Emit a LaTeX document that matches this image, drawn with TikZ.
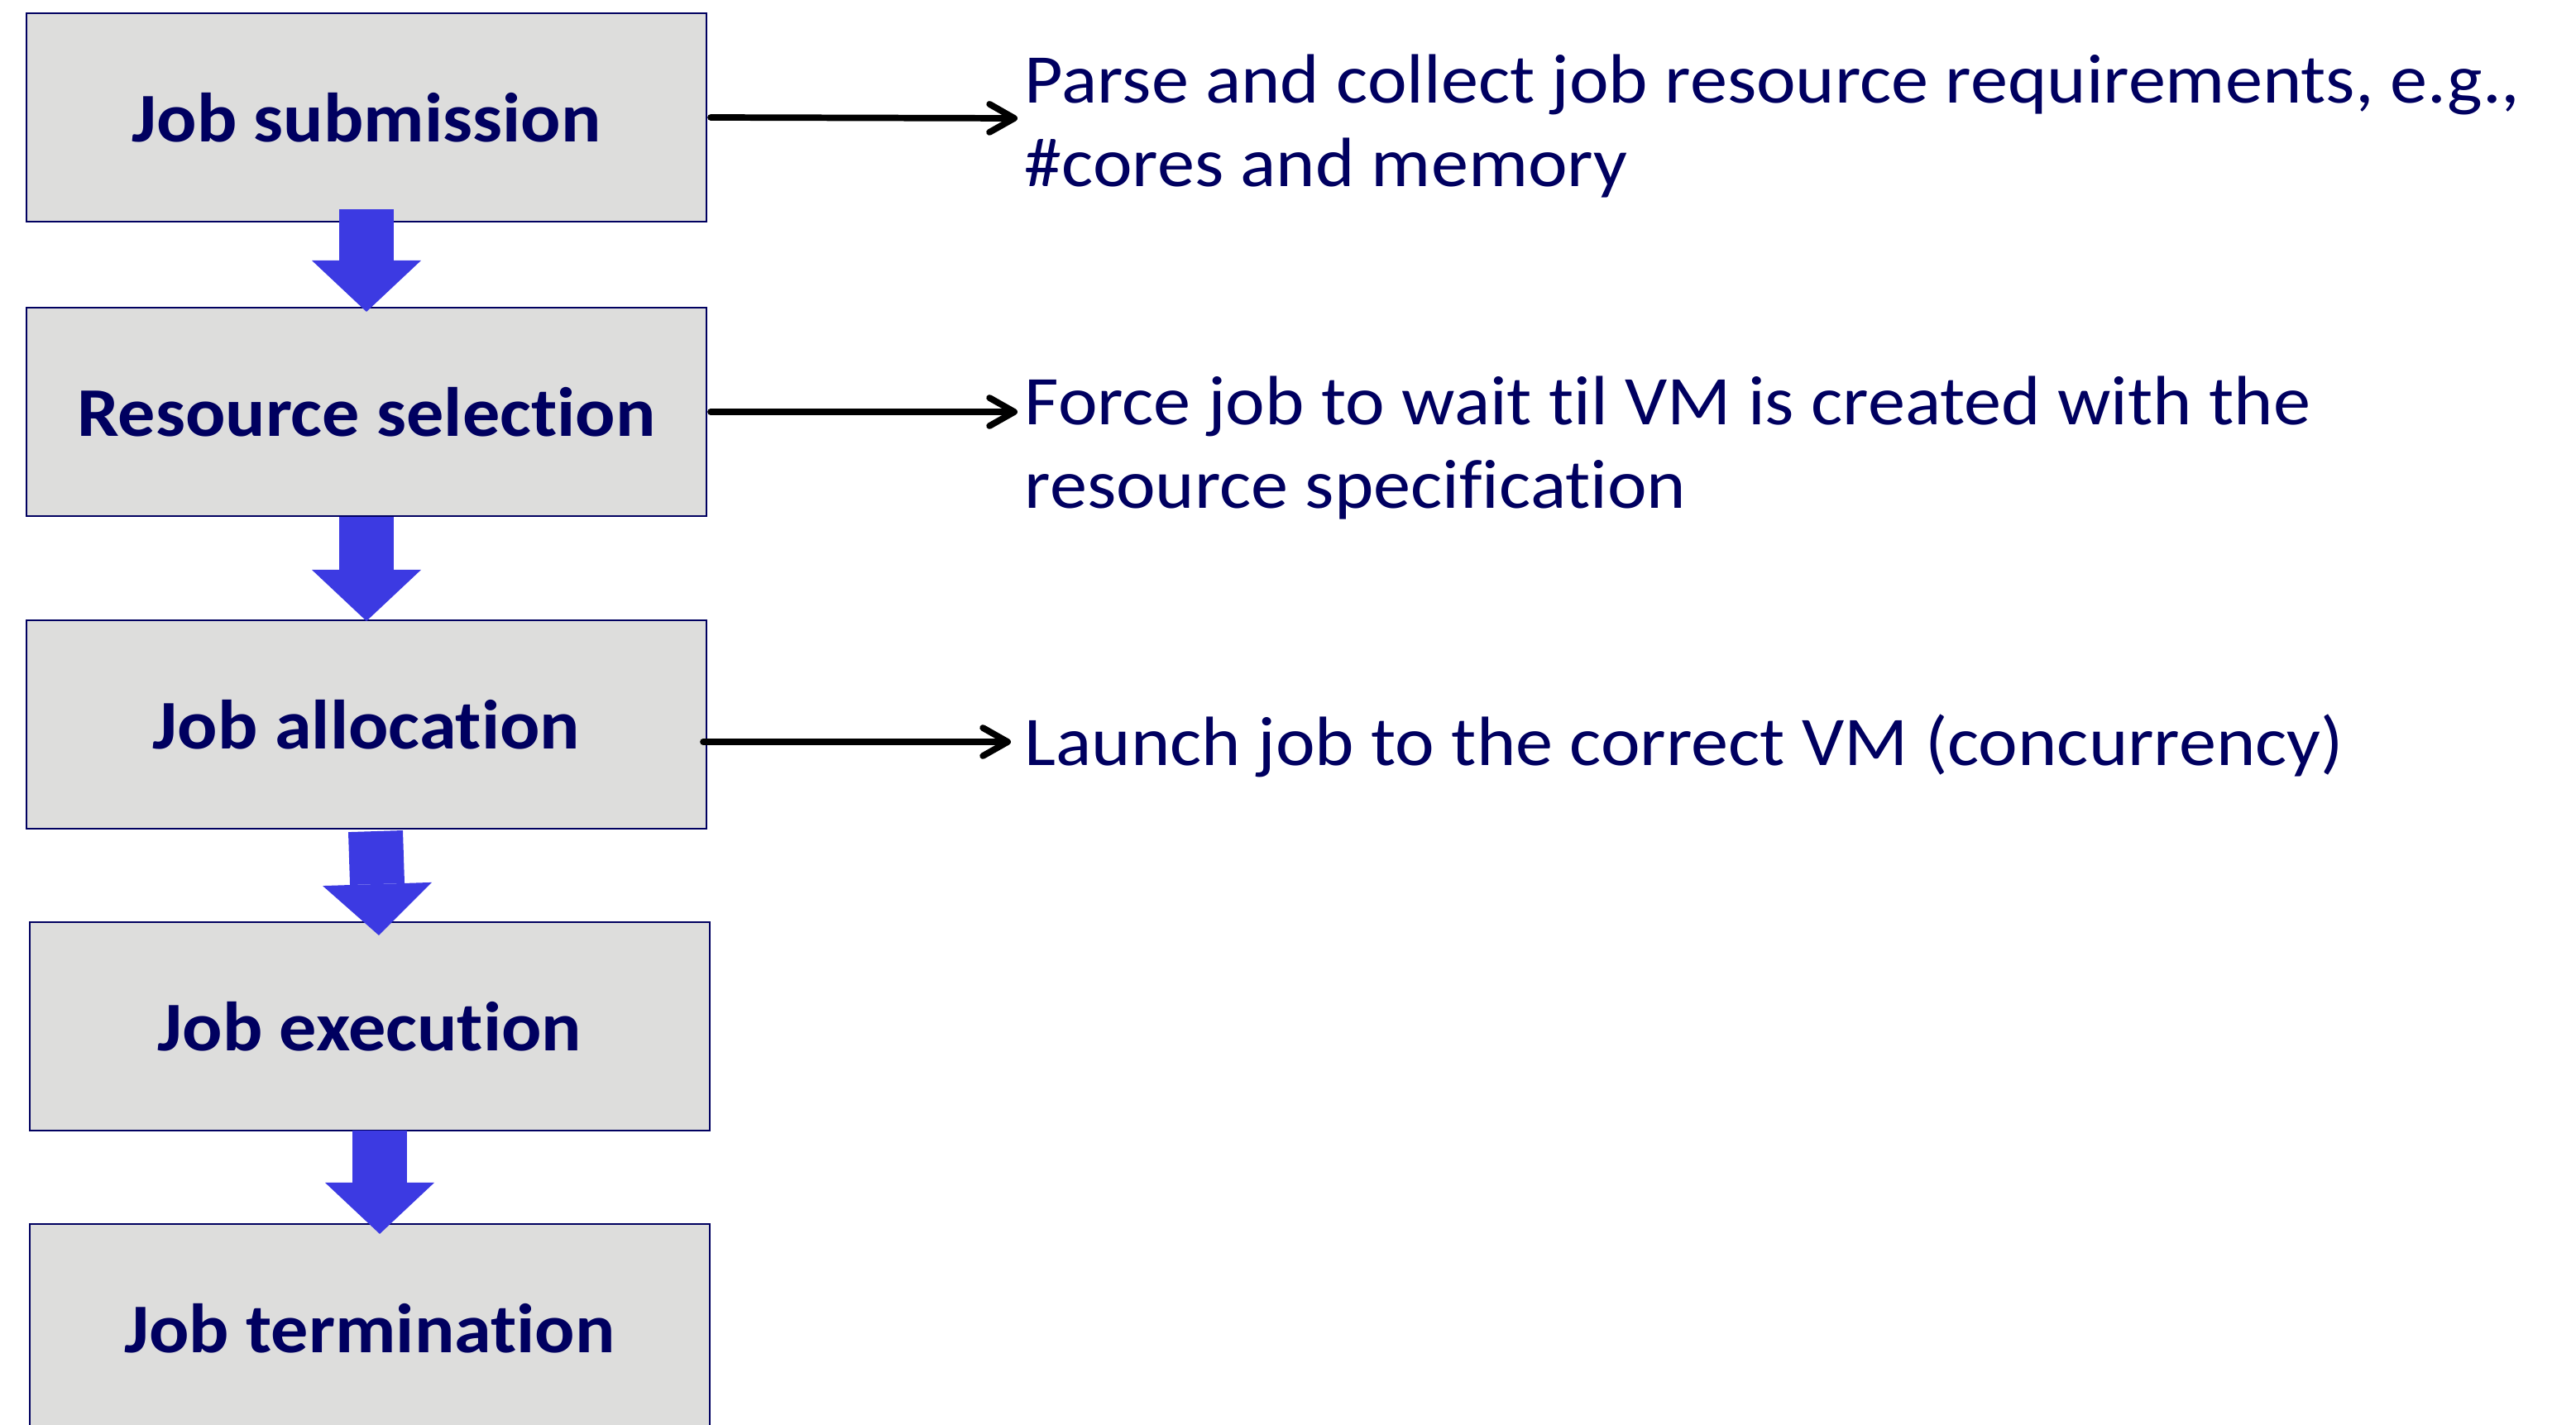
\documentclass[tikz,border=0pt]{standalone}
\usepackage{fontspec}
\setmainfont{Carlito}[Ligatures=NoCommon]
\usetikzlibrary{arrows.meta}

\definecolor{stepnavy}{RGB}{0,0,96}
\definecolor{stepgray}{RGB}{221,221,220}
\definecolor{flowblue}{RGB}{60,58,226}

\tikzset{
  stepbox/.style={draw=stepnavy, line width=0.6pt, fill=stepgray, xscale=1.07,
    minimum width=7.68cm, minimum height=2.52cm, inner sep=0pt,
    text=stepnavy, font=\fontsize{24}{28}\selectfont\bfseries},
  note/.style={anchor=base west, align=left, inner sep=0pt, xscale=1.07,
    text=stepnavy, font=\fontsize{24}{28.5}\selectfont},
  flow/.style={draw=flowblue, line width=0.66cm,
    -{Triangle[length=0.62cm, width=1.32cm, line width=0pt]}},
  link/.style={line width=2.2pt, line cap=round,
    -{Straight Barb[length=0.3cm, width=0.34cm, line cap=round, line join=round]}}
}

\begin{document}
\begin{tikzpicture}

  % Fix the page size
  \useasboundingbox (0,0) rectangle (31.14,-17.23);

  % The steps of the job life cycle
  \node[stepbox] (B1) at (4.43,-1.42)  {Job submission};
  \node[stepbox] (B2) at (4.43,-4.98)  {Resource selection};
  \node[stepbox] (B3) at (4.43,-8.76)  {Job allocation};
  \node[stepbox] (B4) at (4.47,-12.41) {Job execution};
  \node[stepbox] (B5) at (4.47,-16.06) {Job termination};

  % Notes on the right (base = last line)
  \node[note] (T1) at (12.38,-2.25) {Parse and collect job resource requirements, e.g.,\\\#cores and memory};
  \node[note] (T2) at (12.38,-6.14) {Force job to wait til VM is created with the\\resource specification};
  \node[note] (T3) at (12.38,-9.25) {Launch job to the correct VM (concurrency)};

  % Block arrows between the steps
  \draw[flow] ([yshift=0.16cm]B1.south) -- ([yshift=-0.06cm]B2.north);
  \draw[flow] (B2.south) -- ([yshift=-0.02cm]B3.north);
  \draw[flow] ([shift={(0.11,-0.02)}]B3.south) -- ([shift={(0.11,-0.17)}]B4.north);
  \draw[flow] ([shift={(0.12,0.01)}]B4.south) -- ([shift={(0.12,-0.13)}]B5.north);

  % Arrows to the notes
  \coordinate (E1) at (12.30,-1.43);
  \coordinate (E2) at (12.30,-4.98);
  \coordinate (E3) at (12.22,-8.97);
  \draw[link] ([xshift=0.04cm]B1.east) -- (E1);
  \draw[link] ([xshift=0.04cm]B2.east) -- (E2);
  \draw[link] ([xshift=-0.05cm]B3.east |- E3) -- (E3);

\end{tikzpicture}
\end{document}
